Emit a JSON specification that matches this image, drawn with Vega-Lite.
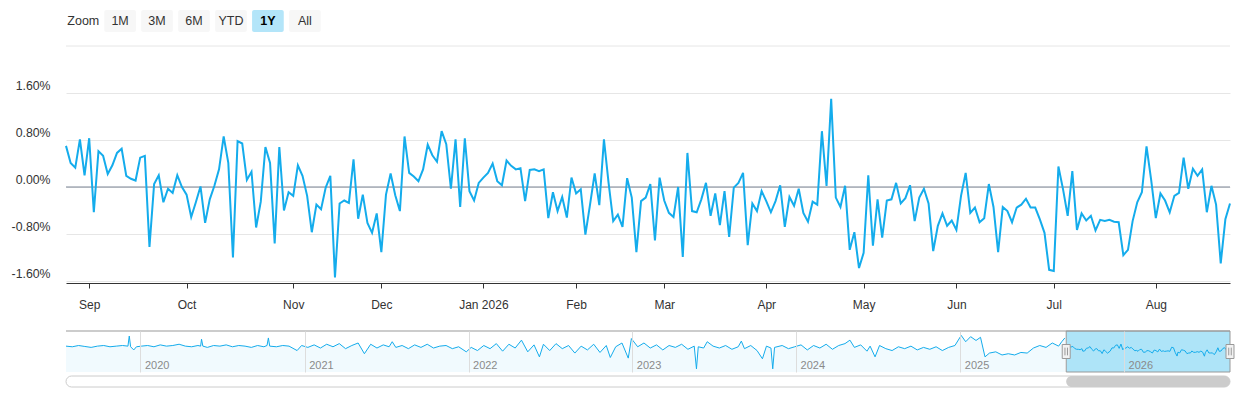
{
  "$schema": "https://vega.github.io/schema/vega-lite/v6.json",
  "padding": {"left": 8, "top": 10, "right": 6, "bottom": 0},
  "config": {
    "view": {"stroke": null},
    "font": "Liberation Sans",
    "axis": {"labelFont": "Liberation Sans", "labelFontSize": 12, "labelColor": "#333333"}
  },
  "datasets": {
    "buttons": [{"b": "Zoom"}, {"b": "1M"}, {"b": "3M"}, {"b": "6M"}, {"b": "YTD"}, {"b": "1Y"}, {"b": "All"}],
    "zero": [{"v": 0}],
    "top": [{"v": 2.4}],
    "sel": [{"s": "2025-08-25", "e": "2026-08-25"}],
    "track": [{"s": "2019-07-19", "e": "2026-08-25"}],
    "main": [
      {"d": "2025-08-25", "v": 0.70}, {"d": "2025-08-26", "v": 0.41}, {"d": "2025-08-27", "v": 0.33}, {"d": "2025-08-28", "v": 0.81}, {"d": "2025-08-29", "v": 0.20},
      {"d": "2025-09-02", "v": 0.83}, {"d": "2025-09-03", "v": -0.43}, {"d": "2025-09-04", "v": 0.61}, {"d": "2025-09-05", "v": 0.53},
      {"d": "2025-09-08", "v": 0.22}, {"d": "2025-09-09", "v": 0.37}, {"d": "2025-09-10", "v": 0.58}, {"d": "2025-09-11", "v": 0.65}, {"d": "2025-09-12", "v": 0.19},
      {"d": "2025-09-15", "v": 0.14}, {"d": "2025-09-16", "v": 0.11}, {"d": "2025-09-17", "v": 0.50}, {"d": "2025-09-18", "v": 0.53}, {"d": "2025-09-19", "v": -1.02},
      {"d": "2025-09-22", "v": 0.05}, {"d": "2025-09-23", "v": 0.20}, {"d": "2025-09-24", "v": -0.26}, {"d": "2025-09-25", "v": -0.03}, {"d": "2025-09-26", "v": -0.10},
      {"d": "2025-09-29", "v": 0.20}, {"d": "2025-09-30", "v": 0.00},
      {"d": "2025-10-01", "v": -0.13}, {"d": "2025-10-02", "v": -0.51}, {"d": "2025-10-03", "v": -0.26},
      {"d": "2025-10-06", "v": 0.01}, {"d": "2025-10-07", "v": -0.61}, {"d": "2025-10-08", "v": -0.21}, {"d": "2025-10-09", "v": 0.02}, {"d": "2025-10-10", "v": 0.30},
      {"d": "2025-10-13", "v": 0.86}, {"d": "2025-10-14", "v": 0.41}, {"d": "2025-10-15", "v": -1.20}, {"d": "2025-10-16", "v": 0.78}, {"d": "2025-10-17", "v": 0.74},
      {"d": "2025-10-20", "v": 0.12}, {"d": "2025-10-21", "v": 0.26}, {"d": "2025-10-22", "v": -0.69}, {"d": "2025-10-23", "v": -0.25}, {"d": "2025-10-24", "v": 0.68},
      {"d": "2025-10-27", "v": 0.41}, {"d": "2025-10-28", "v": -0.96}, {"d": "2025-10-29", "v": 0.68}, {"d": "2025-10-30", "v": -0.40}, {"d": "2025-10-31", "v": -0.09},
      {"d": "2025-11-03", "v": -0.15}, {"d": "2025-11-04", "v": 0.37}, {"d": "2025-11-05", "v": 0.19}, {"d": "2025-11-06", "v": -0.15}, {"d": "2025-11-07", "v": -0.77},
      {"d": "2025-11-10", "v": -0.30}, {"d": "2025-11-11", "v": -0.38}, {"d": "2025-11-12", "v": -0.01}, {"d": "2025-11-13", "v": 0.19}, {"d": "2025-11-14", "v": -1.54},
      {"d": "2025-11-17", "v": -0.28}, {"d": "2025-11-18", "v": -0.23}, {"d": "2025-11-19", "v": -0.27}, {"d": "2025-11-20", "v": 0.47}, {"d": "2025-11-21", "v": -0.54},
      {"d": "2025-11-24", "v": -0.13}, {"d": "2025-11-25", "v": -0.61}, {"d": "2025-11-26", "v": -0.78}, {"d": "2025-11-28", "v": -0.45},
      {"d": "2025-12-01", "v": -1.11}, {"d": "2025-12-02", "v": -0.13}, {"d": "2025-12-03", "v": 0.23}, {"d": "2025-12-04", "v": -0.14}, {"d": "2025-12-05", "v": -0.41},
      {"d": "2025-12-08", "v": 0.86}, {"d": "2025-12-09", "v": 0.24}, {"d": "2025-12-10", "v": 0.18}, {"d": "2025-12-11", "v": 0.10}, {"d": "2025-12-12", "v": 0.30},
      {"d": "2025-12-15", "v": 0.72}, {"d": "2025-12-16", "v": 0.54}, {"d": "2025-12-17", "v": 0.43}, {"d": "2025-12-18", "v": 0.95}, {"d": "2025-12-19", "v": 0.73},
      {"d": "2025-12-22", "v": -0.03}, {"d": "2025-12-23", "v": 0.81}, {"d": "2025-12-24", "v": -0.34}, {"d": "2025-12-26", "v": 0.83},
      {"d": "2025-12-29", "v": -0.07}, {"d": "2025-12-30", "v": -0.23}, {"d": "2025-12-31", "v": 0.07},
      {"d": "2026-01-02", "v": 0.16},
      {"d": "2026-01-05", "v": 0.24}, {"d": "2026-01-06", "v": 0.40}, {"d": "2026-01-07", "v": 0.10}, {"d": "2026-01-08", "v": 0.03}, {"d": "2026-01-09", "v": 0.45},
      {"d": "2026-01-12", "v": 0.36}, {"d": "2026-01-13", "v": 0.30}, {"d": "2026-01-14", "v": 0.32}, {"d": "2026-01-15", "v": -0.24}, {"d": "2026-01-16", "v": 0.29},
      {"d": "2026-01-20", "v": 0.30}, {"d": "2026-01-21", "v": 0.27}, {"d": "2026-01-22", "v": 0.30}, {"d": "2026-01-23", "v": -0.53},
      {"d": "2026-01-26", "v": -0.09}, {"d": "2026-01-27", "v": -0.41}, {"d": "2026-01-28", "v": -0.17}, {"d": "2026-01-29", "v": -0.52}, {"d": "2026-01-30", "v": 0.16},
      {"d": "2026-02-02", "v": -0.11}, {"d": "2026-02-03", "v": -0.04}, {"d": "2026-02-04", "v": -0.81}, {"d": "2026-02-05", "v": -0.30}, {"d": "2026-02-06", "v": 0.23},
      {"d": "2026-02-09", "v": -0.31}, {"d": "2026-02-10", "v": 0.81}, {"d": "2026-02-11", "v": 0.07}, {"d": "2026-02-12", "v": -0.58}, {"d": "2026-02-13", "v": -0.47},
      {"d": "2026-02-17", "v": -0.68}, {"d": "2026-02-18", "v": 0.15}, {"d": "2026-02-19", "v": -0.18}, {"d": "2026-02-20", "v": -1.11},
      {"d": "2026-02-23", "v": -0.24}, {"d": "2026-02-24", "v": -0.18}, {"d": "2026-02-25", "v": 0.05}, {"d": "2026-02-26", "v": -0.91}, {"d": "2026-02-27", "v": 0.16},
      {"d": "2026-03-02", "v": -0.23}, {"d": "2026-03-03", "v": -0.44}, {"d": "2026-03-04", "v": -0.51}, {"d": "2026-03-05", "v": 0.00}, {"d": "2026-03-06", "v": -1.19},
      {"d": "2026-03-09", "v": 0.58}, {"d": "2026-03-10", "v": -0.41}, {"d": "2026-03-11", "v": -0.43}, {"d": "2026-03-12", "v": -0.21}, {"d": "2026-03-13", "v": 0.07},
      {"d": "2026-03-16", "v": -0.49}, {"d": "2026-03-17", "v": -0.11}, {"d": "2026-03-18", "v": -0.65}, {"d": "2026-03-19", "v": -0.07}, {"d": "2026-03-20", "v": -0.85},
      {"d": "2026-03-23", "v": -0.01}, {"d": "2026-03-24", "v": 0.07}, {"d": "2026-03-25", "v": 0.24}, {"d": "2026-03-26", "v": -0.99}, {"d": "2026-03-27", "v": -0.28},
      {"d": "2026-03-30", "v": -0.41}, {"d": "2026-03-31", "v": -0.07},
      {"d": "2026-04-01", "v": -0.24}, {"d": "2026-04-02", "v": -0.43},
      {"d": "2026-04-06", "v": -0.24}, {"d": "2026-04-07", "v": 0.03}, {"d": "2026-04-08", "v": -0.68}, {"d": "2026-04-09", "v": -0.17}, {"d": "2026-04-10", "v": -0.32},
      {"d": "2026-04-13", "v": -0.03}, {"d": "2026-04-14", "v": -0.44}, {"d": "2026-04-15", "v": -0.59}, {"d": "2026-04-16", "v": -0.25}, {"d": "2026-04-17", "v": -0.30},
      {"d": "2026-04-20", "v": 0.95}, {"d": "2026-04-21", "v": 0.02}, {"d": "2026-04-22", "v": 1.50}, {"d": "2026-04-23", "v": -0.18}, {"d": "2026-04-24", "v": -0.34},
      {"d": "2026-04-27", "v": 0.02}, {"d": "2026-04-28", "v": -1.07}, {"d": "2026-04-29", "v": -0.77}, {"d": "2026-04-30", "v": -1.38},
      {"d": "2026-05-01", "v": -1.12},
      {"d": "2026-05-04", "v": 0.20}, {"d": "2026-05-05", "v": -1.00}, {"d": "2026-05-06", "v": -0.21}, {"d": "2026-05-07", "v": -0.86}, {"d": "2026-05-08", "v": -0.23},
      {"d": "2026-05-11", "v": -0.21}, {"d": "2026-05-12", "v": 0.07}, {"d": "2026-05-13", "v": -0.28}, {"d": "2026-05-14", "v": -0.19}, {"d": "2026-05-15", "v": 0.03},
      {"d": "2026-05-18", "v": -0.58}, {"d": "2026-05-19", "v": -0.18}, {"d": "2026-05-20", "v": -0.03}, {"d": "2026-05-21", "v": -0.28}, {"d": "2026-05-22", "v": -1.09},
      {"d": "2026-05-26", "v": -0.66}, {"d": "2026-05-27", "v": -0.45}, {"d": "2026-05-28", "v": -0.66}, {"d": "2026-05-29", "v": -0.57},
      {"d": "2026-06-01", "v": -0.73}, {"d": "2026-06-02", "v": -0.15}, {"d": "2026-06-03", "v": 0.24}, {"d": "2026-06-04", "v": -0.44}, {"d": "2026-06-05", "v": -0.35},
      {"d": "2026-06-08", "v": -0.60}, {"d": "2026-06-09", "v": -0.53}, {"d": "2026-06-10", "v": 0.05}, {"d": "2026-06-11", "v": -0.34}, {"d": "2026-06-12", "v": -1.11},
      {"d": "2026-06-15", "v": -0.34}, {"d": "2026-06-16", "v": -0.41}, {"d": "2026-06-17", "v": -0.60}, {"d": "2026-06-18", "v": -0.35},
      {"d": "2026-06-22", "v": -0.30}, {"d": "2026-06-23", "v": -0.20}, {"d": "2026-06-24", "v": -0.35}, {"d": "2026-06-25", "v": -0.35}, {"d": "2026-06-26", "v": -0.55},
      {"d": "2026-06-29", "v": -0.78}, {"d": "2026-06-30", "v": -1.41},
      {"d": "2026-07-01", "v": -1.43}, {"d": "2026-07-02", "v": 0.35},
      {"d": "2026-07-06", "v": -0.04}, {"d": "2026-07-07", "v": -0.49}, {"d": "2026-07-08", "v": 0.27}, {"d": "2026-07-09", "v": -0.73}, {"d": "2026-07-10", "v": -0.45},
      {"d": "2026-07-13", "v": -0.57}, {"d": "2026-07-14", "v": -0.49}, {"d": "2026-07-15", "v": -0.74}, {"d": "2026-07-16", "v": -0.56}, {"d": "2026-07-17", "v": -0.58},
      {"d": "2026-07-20", "v": -0.56}, {"d": "2026-07-21", "v": -0.59}, {"d": "2026-07-22", "v": -0.60}, {"d": "2026-07-23", "v": -1.16}, {"d": "2026-07-24", "v": -1.07},
      {"d": "2026-07-27", "v": -0.58}, {"d": "2026-07-28", "v": -0.26}, {"d": "2026-07-29", "v": -0.09}, {"d": "2026-07-30", "v": 0.69}, {"d": "2026-07-31", "v": 0.12},
      {"d": "2026-08-03", "v": -0.53}, {"d": "2026-08-04", "v": -0.11}, {"d": "2026-08-05", "v": -0.23}, {"d": "2026-08-06", "v": -0.43}, {"d": "2026-08-07", "v": -0.15},
      {"d": "2026-08-10", "v": -0.10}, {"d": "2026-08-11", "v": 0.50}, {"d": "2026-08-12", "v": -0.03}, {"d": "2026-08-13", "v": 0.31}, {"d": "2026-08-14", "v": 0.19},
      {"d": "2026-08-17", "v": 0.30}, {"d": "2026-08-18", "v": -0.43}, {"d": "2026-08-19", "v": 0.02}, {"d": "2026-08-20", "v": -0.30}, {"d": "2026-08-21", "v": -1.30},
      {"d": "2026-08-24", "v": -0.55}, {"d": "2026-08-25", "v": -0.28}
    ],
    "hist": [
      {"d": "2019-07-19", "v": 0.5}, {"d": "2019-08-02", "v": 0.4}, {"d": "2019-08-16", "v": 0.6}, {"d": "2019-08-30", "v": 0.45}, {"d": "2019-09-13", "v": 0.3},
      {"d": "2019-09-27", "v": 0.5}, {"d": "2019-10-11", "v": 0.6}, {"d": "2019-10-25", "v": 0.4}, {"d": "2019-11-08", "v": 0.5}, {"d": "2019-11-22", "v": 0.6},
      {"d": "2019-12-04", "v": 0.5}, {"d": "2019-12-07", "v": 2.1}, {"d": "2019-12-10", "v": 0.4}, {"d": "2019-12-17", "v": -0.1}, {"d": "2019-12-23", "v": 0.4},
      {"d": "2020-01-03", "v": 0.5}, {"d": "2020-01-17", "v": 0.6}, {"d": "2020-01-31", "v": 0.4}, {"d": "2020-02-14", "v": 0.7}, {"d": "2020-02-28", "v": 0.5},
      {"d": "2020-03-13", "v": 0.6}, {"d": "2020-03-27", "v": 0.8}, {"d": "2020-04-10", "v": 0.5}, {"d": "2020-04-24", "v": 0.4}, {"d": "2020-05-08", "v": 0.6},
      {"d": "2020-05-14", "v": 0.5}, {"d": "2020-05-16", "v": 1.6}, {"d": "2020-05-19", "v": 0.5}, {"d": "2020-05-29", "v": 0.3}, {"d": "2020-06-12", "v": 0.6},
      {"d": "2020-06-26", "v": 0.5}, {"d": "2020-07-10", "v": 0.7}, {"d": "2020-07-24", "v": 0.4}, {"d": "2020-08-07", "v": 0.6}, {"d": "2020-08-21", "v": 0.5},
      {"d": "2020-09-04", "v": 0.3}, {"d": "2020-09-18", "v": 0.6}, {"d": "2020-10-02", "v": 0.4}, {"d": "2020-10-09", "v": 0.6}, {"d": "2020-10-12", "v": 1.8},
      {"d": "2020-10-15", "v": 0.5}, {"d": "2020-10-30", "v": 0.4}, {"d": "2020-11-13", "v": 0.6}, {"d": "2020-11-27", "v": 0.5}, {"d": "2020-12-15", "v": -0.2},
      {"d": "2020-12-25", "v": 0.6}, {"d": "2021-01-08", "v": 0.3}, {"d": "2021-01-22", "v": 0.7}, {"d": "2021-02-05", "v": 0.2}, {"d": "2021-02-19", "v": 0.8},
      {"d": "2021-03-05", "v": 0.4}, {"d": "2021-03-19", "v": 0.9}, {"d": "2021-04-02", "v": 0.1}, {"d": "2021-04-16", "v": 0.6}, {"d": "2021-04-30", "v": 1.0},
      {"d": "2021-05-14", "v": -0.7}, {"d": "2021-05-28", "v": 0.8}, {"d": "2021-06-11", "v": 0.2}, {"d": "2021-06-25", "v": 0.7}, {"d": "2021-07-08", "v": 0.4},
      {"d": "2021-07-15", "v": 1.2}, {"d": "2021-07-23", "v": 0.3}, {"d": "2021-08-06", "v": 0.6}, {"d": "2021-08-20", "v": 0.1}, {"d": "2021-09-03", "v": 0.7},
      {"d": "2021-09-17", "v": 0.3}, {"d": "2021-10-01", "v": 0.8}, {"d": "2021-10-15", "v": 0.2}, {"d": "2021-10-29", "v": 0.5}, {"d": "2021-11-12", "v": 0.6},
      {"d": "2021-11-26", "v": 0.1}, {"d": "2021-12-10", "v": 0.4}, {"d": "2021-12-27", "v": -0.4}, {"d": "2022-01-07", "v": 0.3}, {"d": "2022-01-21", "v": -0.2},
      {"d": "2022-02-04", "v": 0.6}, {"d": "2022-02-18", "v": 0.1}, {"d": "2022-03-04", "v": 0.9}, {"d": "2022-03-18", "v": -0.3}, {"d": "2022-04-01", "v": 0.8},
      {"d": "2022-04-15", "v": 0.2}, {"d": "2022-04-29", "v": 1.45}, {"d": "2022-05-13", "v": -0.4}, {"d": "2022-05-27", "v": 0.7}, {"d": "2022-06-08", "v": -1.2},
      {"d": "2022-06-17", "v": 0.8}, {"d": "2022-07-01", "v": -0.2}, {"d": "2022-07-15", "v": 0.9}, {"d": "2022-07-29", "v": 0.1}, {"d": "2022-08-12", "v": 0.6},
      {"d": "2022-08-26", "v": -0.6}, {"d": "2022-09-09", "v": 0.5}, {"d": "2022-09-23", "v": -0.1}, {"d": "2022-10-07", "v": 0.8}, {"d": "2022-10-21", "v": -0.5},
      {"d": "2022-11-04", "v": 0.6}, {"d": "2022-11-13", "v": -1.3}, {"d": "2022-11-25", "v": 0.4}, {"d": "2022-12-09", "v": 1.0}, {"d": "2022-12-23", "v": -1.4},
      {"d": "2022-12-30", "v": 1.7}, {"d": "2023-01-13", "v": 0.4}, {"d": "2023-01-27", "v": 1.0}, {"d": "2023-02-10", "v": 0.2}, {"d": "2023-02-24", "v": 0.7},
      {"d": "2023-03-10", "v": -0.1}, {"d": "2023-03-24", "v": 0.6}, {"d": "2023-04-07", "v": 0.3}, {"d": "2023-04-21", "v": 0.8}, {"d": "2023-05-05", "v": 0.0},
      {"d": "2023-05-19", "v": 0.5}, {"d": "2023-05-24", "v": -3.1}, {"d": "2023-05-28", "v": 0.4}, {"d": "2023-06-09", "v": 0.2}, {"d": "2023-06-17", "v": 1.2},
      {"d": "2023-06-30", "v": 0.5}, {"d": "2023-07-14", "v": 0.2}, {"d": "2023-07-28", "v": 0.6}, {"d": "2023-08-11", "v": 0.0}, {"d": "2023-08-25", "v": 0.4},
      {"d": "2023-09-01", "v": 1.3}, {"d": "2023-09-08", "v": 0.1}, {"d": "2023-09-22", "v": 0.6}, {"d": "2023-10-06", "v": -0.2}, {"d": "2023-10-18", "v": -1.5},
      {"d": "2023-10-27", "v": 0.5}, {"d": "2023-11-06", "v": 0.2}, {"d": "2023-11-10", "v": -3.1}, {"d": "2023-11-14", "v": 0.3}, {"d": "2023-12-01", "v": 0.6},
      {"d": "2023-12-15", "v": 0.1}, {"d": "2023-12-29", "v": 0.4}, {"d": "2024-01-12", "v": 0.7}, {"d": "2024-01-26", "v": -0.1}, {"d": "2024-02-09", "v": 0.6},
      {"d": "2024-02-23", "v": 0.2}, {"d": "2024-03-08", "v": 0.8}, {"d": "2024-03-22", "v": 0.0}, {"d": "2024-04-05", "v": 0.6}, {"d": "2024-04-19", "v": 0.9},
      {"d": "2024-04-30", "v": 1.45}, {"d": "2024-05-10", "v": 0.3}, {"d": "2024-05-24", "v": 0.7}, {"d": "2024-06-07", "v": -0.3}, {"d": "2024-06-14", "v": 0.5},
      {"d": "2024-06-25", "v": -1.2}, {"d": "2024-07-05", "v": 0.6}, {"d": "2024-07-19", "v": 0.1}, {"d": "2024-08-02", "v": -0.2}, {"d": "2024-08-16", "v": 0.4},
      {"d": "2024-08-30", "v": 0.1}, {"d": "2024-09-13", "v": 0.5}, {"d": "2024-09-27", "v": -0.1}, {"d": "2024-10-11", "v": 0.3}, {"d": "2024-10-25", "v": 0.0},
      {"d": "2024-11-08", "v": 0.4}, {"d": "2024-11-22", "v": -0.2}, {"d": "2024-12-06", "v": 0.3}, {"d": "2024-12-20", "v": 0.6}, {"d": "2025-01-03", "v": 2.2},
      {"d": "2025-01-13", "v": 1.2}, {"d": "2025-01-24", "v": 2.0}, {"d": "2025-02-05", "v": 1.4}, {"d": "2025-02-15", "v": 1.9}, {"d": "2025-02-25", "v": -1.2},
      {"d": "2025-03-07", "v": -0.6}, {"d": "2025-03-21", "v": -0.4}, {"d": "2025-04-04", "v": -0.9}, {"d": "2025-04-18", "v": -0.7}, {"d": "2025-05-02", "v": -0.9},
      {"d": "2025-05-16", "v": -0.5}, {"d": "2025-05-30", "v": -0.6}, {"d": "2025-06-13", "v": 0.2}, {"d": "2025-06-27", "v": 0.6}, {"d": "2025-07-11", "v": 0.3},
      {"d": "2025-07-25", "v": 1.0}, {"d": "2025-08-08", "v": 0.5}, {"d": "2025-08-15", "v": 1.2}, {"d": "2025-08-22", "v": 1.8}
    ]
  },
  "spacing": 13,
  "vconcat": [
    {
      "width": 256,
      "height": 22,
      "data": {"name": "buttons"},
      "encoding": {
        "x": {"field": "b", "type": "nominal", "scale": {"domain": ["Zoom", "1M", "3M", "6M", "YTD", "1Y", "All"], "paddingInner": 0.143, "paddingOuter": 0.035}, "axis": null}
      },
      "layer": [
        {
          "transform": [{"filter": "datum.b !== 'Zoom'"}],
          "mark": {"type": "rect", "cornerRadius": 2},
          "encoding": {"fill": {"condition": {"test": "datum.b === '1Y'", "value": "#b3e5f9"}, "value": "#f7f7f7"}}
        },
        {
          "transform": [{"filter": "datum.b !== 'Zoom' && datum.b !== '1Y'"}],
          "mark": {"type": "text", "fontSize": 12.5, "color": "#333333"},
          "encoding": {"text": {"field": "b"}}
        },
        {
          "transform": [{"filter": "datum.b === '1Y'"}],
          "mark": {"type": "text", "fontSize": 12.5, "fontWeight": "bold", "color": "#000000"},
          "encoding": {"text": {"field": "b"}}
        },
        {
          "transform": [{"filter": "datum.b === 'Zoom'"}],
          "mark": {"type": "text", "fontSize": 12.5, "color": "#333333", "align": "left"},
          "encoding": {"x": {"field": "b", "type": "nominal", "bandPosition": 0}, "text": {"field": "b"}}
        }
      ]
    },
    {
      "spacing": 17,
      "vconcat": [
        {
          "width": 1164,
          "height": 237,
          "encoding": {
            "y": {
              "field": "v", "type": "quantitative",
              "scale": {"domain": [-1.634, 2.4], "nice": false, "zero": false},
              "axis": {
                "values": [-1.6, -0.8, 0, 0.8, 1.6],
                "labelExpr": "(datum.value < 0 ? '-' : '') + format(abs(datum.value), '.2f') + '%'",
                "grid": true, "gridColor": "#e6e6e6", "domain": false, "ticks": false, "tickSize": 0,
                "labelPadding": 16, "labelBaseline": "alphabetic", "labelOffset": -4, "labelFlush": false,
                "labelFontSize": 12.3,
                "minExtent": 58, "maxExtent": 58, "title": null
              }
            }
          },
          "layer": [
            {"data": {"name": "top"}, "mark": {"type": "rule", "color": "#e6e6e6", "strokeWidth": 1}},
            {"data": {"name": "zero"}, "mark": {"type": "rule", "color": "#7a8494", "strokeWidth": 1}},
            {
              "data": {"name": "main"},
              "mark": {"type": "line", "color": "#14acec", "strokeWidth": 2},
              "encoding": {
                "x": {
                  "field": "d", "type": "ordinal", "timeUnit": "utcyearmonthdate",
                  "scale": {"padding": 0},
                  "axis": {
                    "values": [
                      {"year": 2025, "month": 9, "date": 2, "utc": true},
                      {"year": 2025, "month": 10, "date": 1, "utc": true},
                      {"year": 2025, "month": 11, "date": 3, "utc": true},
                      {"year": 2025, "month": 12, "date": 1, "utc": true},
                      {"year": 2026, "month": 1, "date": 2, "utc": true},
                      {"year": 2026, "month": 2, "date": 2, "utc": true},
                      {"year": 2026, "month": 3, "date": 2, "utc": true},
                      {"year": 2026, "month": 4, "date": 1, "utc": true},
                      {"year": 2026, "month": 5, "date": 1, "utc": true},
                      {"year": 2026, "month": 6, "date": 1, "utc": true},
                      {"year": 2026, "month": 7, "date": 1, "utc": true},
                      {"year": 2026, "month": 8, "date": 3, "utc": true}
                    ],
                    "labelExpr": "utcFormat(datum.value, '%m') === '01' ? utcFormat(datum.value, '%b %Y') : utcFormat(datum.value, '%b')",
                    "labelAngle": 0, "tickSize": 5, "tickColor": "#333333", "domainColor": "#333333",
                    "labelPadding": 11, "minExtent": 30, "maxExtent": 30, "title": null, "grid": false
                  }
                }
              }
            }
          ]
        },
        {
          "spacing": 2,
          "vconcat": [
            {
              "width": 1164,
              "height": 41,
              "layer": [
                {
                  "data": {"name": "hist"},
                  "mark": {"type": "area", "color": "#14acec", "opacity": 0.06},
                  "encoding": {
                    "x": {
                      "field": "d", "type": "temporal",
                      "scale": {"type": "utc", "domain": [{"year": 2019, "month": 7, "date": 19, "utc": true}, {"year": 2026, "month": 8, "date": 25, "utc": true}]},
                      "axis": {
                        "tickCount": {"interval": "year", "step": 1}, "format": "%Y",
                        "grid": true, "gridColor": "#dddddd", "domain": false, "ticks": false, "tickSize": 0,
                        "labelAlign": "left", "labelBaseline": "alphabetic", "labelPadding": -4, "labelOffset": 4,
                        "labelColor": "#8a8a8a", "labelFontSize": 11, "labelFlush": false, "title": null, "zindex": 1
                      }
                    },
                    "y": {"field": "v", "type": "quantitative", "scale": {"domain": [-3.6, 2.9], "nice": false, "zero": false}, "axis": null},
                    "y2": {"datum": -3.6}
                  }
                },
                {
                  "data": {"name": "main"},
                  "mark": {"type": "area", "color": "#14acec", "opacity": 0.06},
                  "encoding": {
                    "x": {"field": "d", "type": "temporal", "timeUnit": {"unit": "yearmonthdate", "utc": true, "step": 4}, "scale": {"type": "utc"}, "axis": {"title": null}},
                    "y": {"field": "v", "aggregate": "mean", "type": "quantitative", "axis": null},
                    "y2": {"datum": -3.6}
                  }
                },
                {
                  "data": {"name": "sel"},
                  "mark": {"type": "rect", "fill": "#aee4f8", "stroke": "#999999", "strokeWidth": 1},
                  "encoding": {
                    "x": {"field": "s", "type": "temporal", "scale": {"type": "utc"}, "axis": {"title": null}},
                    "x2": {"field": "e"}
                  }
                },
                {
                  "data": {"name": "hist"},
                  "mark": {"type": "line", "color": "#14acec", "strokeWidth": 1},
                  "encoding": {
                    "x": {"field": "d", "type": "temporal", "scale": {"type": "utc"}, "axis": {"title": null}},
                    "y": {"field": "v", "type": "quantitative", "axis": null}
                  }
                },
                {
                  "data": {"name": "main"},
                  "mark": {"type": "line", "color": "#14acec", "strokeWidth": 1},
                  "encoding": {
                    "x": {"field": "d", "type": "temporal", "timeUnit": {"unit": "yearmonthdate", "utc": true, "step": 4}, "scale": {"type": "utc"}, "axis": {"title": null}},
                    "y": {"field": "v", "aggregate": "mean", "type": "quantitative", "axis": null}
                  }
                },
                {
                  "data": {"name": "sel"},
                  "mark": {"type": "rule", "color": "#999999", "strokeWidth": 1},
                  "encoding": {"y": {"datum": 2.9, "type": "quantitative", "axis": null}}
                },
                {
                  "data": {"name": "sel"},
                  "mark": {"type": "point", "shape": "M-0.57,-1H0.57V1H-0.57Z M-0.18,-0.55V0.55 M0.18,-0.55V0.55", "size": 196, "filled": true, "fill": "#f2f2f2", "stroke": "#999999", "strokeWidth": 1, "opacity": 1},
                  "encoding": {"x": {"field": "s", "type": "temporal", "scale": {"type": "utc"}, "axis": {"title": null}}}
                },
                {
                  "data": {"name": "sel"},
                  "mark": {"type": "point", "shape": "M-0.57,-1H0.57V1H-0.57Z M-0.18,-0.55V0.55 M0.18,-0.55V0.55", "size": 196, "filled": true, "fill": "#f2f2f2", "stroke": "#999999", "strokeWidth": 1, "opacity": 1},
                  "encoding": {"x": {"field": "e", "type": "temporal", "scale": {"type": "utc"}, "axis": {"title": null}}}
                }
              ]
            },
            {
              "width": 1164,
              "height": 11,
              "layer": [
                {
                  "data": {"name": "track"},
                  "mark": {"type": "rect", "fill": "#ffffff", "stroke": "#cccccc", "strokeWidth": 1, "cornerRadius": 5.5},
                  "encoding": {
                    "x": {"field": "s", "type": "temporal", "scale": {"type": "utc", "domain": [{"year": 2019, "month": 7, "date": 19, "utc": true}, {"year": 2026, "month": 8, "date": 25, "utc": true}]}, "axis": null},
                    "x2": {"field": "e"}
                  }
                },
                {
                  "data": {"name": "sel"},
                  "mark": {"type": "rect", "fill": "#cccccc", "cornerRadius": 5.5},
                  "encoding": {
                    "x": {"field": "s", "type": "temporal", "scale": {"type": "utc"}, "axis": null},
                    "x2": {"field": "e"}
                  }
                }
              ]
            }
          ]
        }
      ]
    }
  ]
}
